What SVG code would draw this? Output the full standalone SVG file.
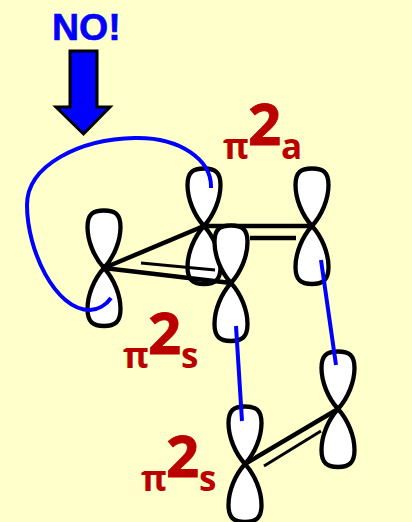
<svg xmlns="http://www.w3.org/2000/svg" width="412" height="522" viewBox="0 0 412 522">
<style>
.bg{fill:#ffffcc}
.lobe{fill:#fff;stroke:#000;stroke-width:4.300;stroke-linejoin:round}
.bond{stroke:#000;stroke-width:4.500;fill:none}
.thin{stroke:#000;stroke-width:3;fill:none}
.blue{stroke:#0000ff;stroke-width:4;fill:none}
.no{font-family:"Liberation Sans",Arial,sans-serif;font-weight:700;font-size:37.500px;fill:#0000ff;stroke:#0000ff;stroke-width:.6}
.lab{font-family:"Open Sans","Noto Sans",sans-serif;font-weight:700;fill:#bb0000}
.big{font-size:58px;stroke:#bb0000;stroke-width:.8}.sm{font-size:35px}
</style>
<defs>
<g id="orb">
<path class="lobe" d="M0,0C-10,-11 -16.500,-27 -16.500,-41C-16.500,-54 -11,-57.500 0,-57.500C11,-57.500 16.500,-54 16.500,-41C16.500,-27 10,-11 0,0Z"/>
<path class="lobe" d="M0,0C-10,11 -16.500,27 -16.500,41C-16.500,54 -11,58 0,58C11,58 16.500,54 16.500,41C16.500,27 10,11 0,0Z"/>
</g>
</defs>
<rect class="bg" width="412" height="522"/>
<g id="arrow-no">
<path d="M70,51H97V107H110L83.500,134L56,107H70Z" fill="#0000ff" stroke="#000" stroke-width="3"/>
<text class="no" x="52" y="40">NO!</text>
</g>
<g id="orbital-left"><use href="#orb" x="104" y="268"/></g>
<g id="orbital-mid"><use href="#orb" x="204" y="226"/></g>
<g id="orbital-right"><use href="#orb" x="312" y="226"/></g>
<g id="connectors-back">
<path class="bond" d="M104,268L204,226H312M250,238H296"/>
</g>
<g id="orbital-front"><use href="#orb" x="231" y="283"/></g>
<g id="orbital-lower-right"><use href="#orb" x="338" y="409"/></g>
<g id="orbital-lower-left"><use href="#orb" x="245" y="464"/></g>
<g id="connectors">
<path class="bond" d="M104,268L231,283M245,464L338,409"/>
<path class="thin" d="M141,263L215,270M264,466L321,431"/>
<path class="blue" d="M211,188C212,160 180,137 135,138C80,139 27,165 27,205C27,250 55,310 90,310C98,310 106,305 111,298"/>
<path class="blue" d="M321,260L336,365M236,326L242,421"/>
</g>
<g id="label-top"><text class="lab sm" x="223" y="159">π</text><text class="lab big" x="248" y="145">2</text><text class="lab sm" x="281" y="159">a</text></g>
<g id="label-mid"><text class="lab sm" x="123" y="368">π</text><text class="lab big" x="148" y="354">2</text><text class="lab sm" x="181" y="368">s</text></g>
<g id="label-bottom"><text class="lab sm" x="141" y="491">π</text><text class="lab big" x="166" y="477">2</text><text class="lab sm" x="199" y="491">s</text></g>
</svg>
